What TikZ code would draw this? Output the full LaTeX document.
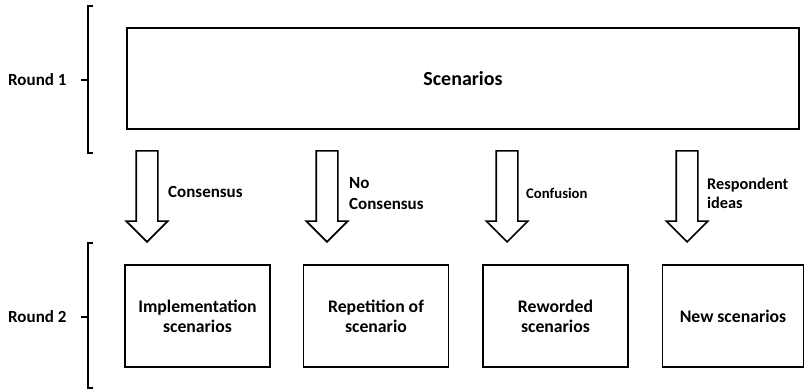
\documentclass[tikz,border=0pt]{standalone}
\usepackage{fontspec}
\setmainfont{Carlito}
\usepackage{tikz}
\usetikzlibrary{shapes.arrows,positioning,calc}

\begin{document}
\begin{tikzpicture}[x=1pt,y=-1pt,
    font=\bfseries\fontsize{17}{21}\selectfont,
    roundbox/.style={draw,line width=1.6pt,inner sep=0pt,align=center,
      font=\bfseries\fontsize{17.7}{20}\selectfont},
    downarrow/.style={single arrow,draw,fill=white,line width=1.6pt,
      inner xsep=0pt,inner ysep=10pt,minimum width=40pt,minimum height=91pt,
      single arrow head extend=10pt,rotate=-90,anchor=tip},
    bracket/.style={line width=1.4pt}]
    \useasboundingbox (0,0) rectangle (805,389);
    \node[roundbox,minimum width=672pt,minimum height=101pt,
      font=\bfseries\fontsize{20}{24}\selectfont] (scen) at (463,78.5) {Scenarios};
    \node[roundbox,minimum width=145pt,minimum height=102pt] (impl) at (197.5,316) {Implementation\\scenarios};
    \node[roundbox,minimum width=145pt,minimum height=102pt] (rep) at (376,316) {Repetition of\\scenario};
    \node[roundbox,minimum width=145pt,minimum height=102pt] (rew) at (555.5,316) {Reworded\\scenarios};
    \node[roundbox,minimum width=141pt,minimum height=102pt] (new) at (733,316) {New scenarios};
    \node[downarrow] (a1) at (147,243) {};
    \node[downarrow] (a2) at (327,243) {};
    \node[downarrow] (a3) at (507,243) {};
    \node[downarrow] (a4) at (687,243) {};
    \node[anchor=west,inner sep=0pt] (l1) at (168,192) {Consensus};
    \node[anchor=west,inner sep=0pt,align=left] (l2) at (349,193.5) {No\\Consensus};
    \node[anchor=west,inner sep=0pt,font=\bfseries\fontsize{14.7}{19}\selectfont] (l3) at (526,193) {Confusion};
    \node[anchor=west,inner sep=0pt,align=left,font=\bfseries\fontsize{16.3}{19}\selectfont] (l4) at (707,193.5) {Respondent\\ideas};
    \node[anchor=west,inner sep=0pt] (r1) at (8,80) {Round 1};
    \node[anchor=west,inner sep=0pt] (r2) at (8,317) {Round 2};
    \draw[bracket] (93,6) -- (88,6) -- (88,153) -- (93,153) (81,80) -- (88,80);
    \draw[bracket] (93,243) -- (88,243) -- (88,388) -- (93,388) (81,317) -- (88,317);
\end{tikzpicture}
\end{document}
